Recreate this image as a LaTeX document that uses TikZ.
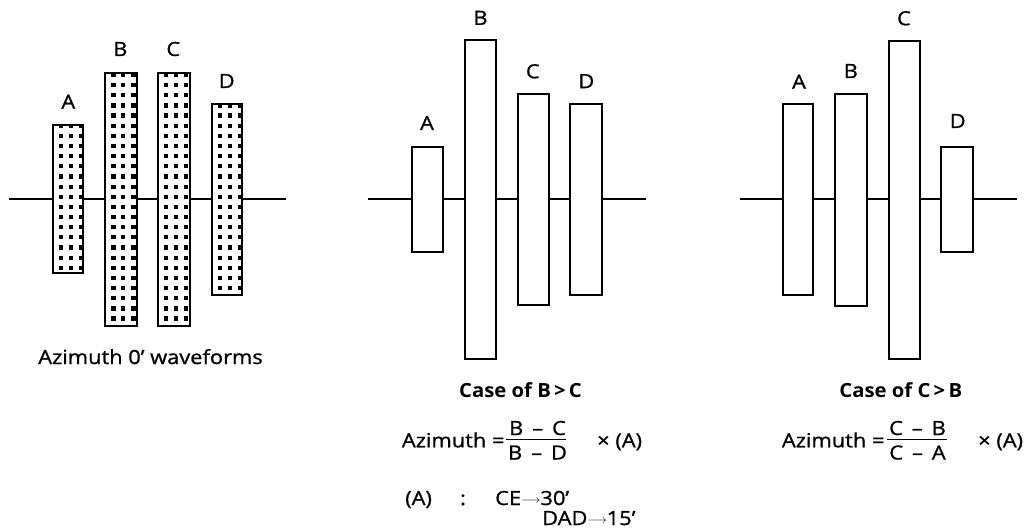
\documentclass[tikz,border=0pt]{standalone}
\usepackage{fontspec}
\setmainfont[FakeStretch=1.12]{Open Sans}
\newfontfamily\regf[FakeStretch=1.12,FakeBold=1.0]{Open Sans}
\newfontfamily\boldf[FakeStretch=1.04]{Open Sans}
\newcommand{\fs}{\fontsize{19.5}{22}\selectfont\regf}
\newcommand{\garrow}{\raisebox{2pt}{\fontsize{13}{14}\selectfont$\longrightarrow$}}
\tikzset{
  axisline/.style={line width=1.6pt},
  barbox/.style={draw, line width=2.1pt, fill=white, inner sep=0pt, outer sep=0pt},
  barline/.style={line width=2.1pt},
  lbl/.style={inner sep=0pt, font=\fs},
  txt/.style={inner sep=0pt, font=\fs, anchor=base},
  txtw/.style={inner sep=0pt, font=\fs, anchor=base west},
  boldtxt/.style={inner sep=0pt, font=\fontsize{19.5}{22}\selectfont\boldf\bfseries, anchor=base},
  fracline/.style={line width=1.4pt},
  dot/.style={fill=black},
}
% name, x1, y1, x2, y2 (centre lines of the border, image coordinates)
\newcommand{\mkbar}[5]{%
  \node[barbox, minimum width={(#4-#2)*1pt}, minimum height={(#5-#3)*1pt}] (#1) at ({(#2+#4)/2},{(#3+#5)/2}) {};}
\newcommand{\mkdots}[5]{%
  \begin{scope}
    \clip (#1.north west) rectangle (#1.south east);
    \foreach \k in {0,...,26}{
      \foreach \dx in {9.2,19,29.2}{
        \fill[dot] ({#2-0.9+\dx-2.1},{75+10.15*\k-2.1}) rectangle +(4.2,4.2);
      }}
  \end{scope}
  \draw[barline] (#1.north west) rectangle (#1.south east);}
\begin{document}
\begin{tikzpicture}[x=1pt,y=-1pt]
\useasboundingbox (0,0) rectangle (1031,529);

% ---------- left panel ----------
\coordinate (ax1a) at (9.3,199.3);
\coordinate (ax1b) at (285.7,199.3);
\draw[axisline] (ax1a) -- (ax1b);
\mkbar{bA1}{52.6}{125.2}{83.4}{273.1}
\mkbar{bB1}{105.2}{72.6}{137.4}{326.4}
\mkbar{bC1}{157.6}{72.6}{189.8}{326.4}
\mkbar{bD1}{211.6}{103.6}{242.4}{295.1}
\mkdots{bA1}{52.6}{125.2}{83.4}{273.1}
\mkdots{bB1}{105.2}{72.6}{137.4}{326.4}
\mkdots{bC1}{157.6}{72.6}{189.8}{326.4}
\mkdots{bD1}{211.6}{103.6}{242.4}{295.1}
\node[lbl] (lA1) at (68.3,101.7) {A};
\node[lbl] (lB1) at (120.3,49) {B};
\node[lbl] (lC1) at (173.3,49) {C};
\node[lbl] (lD1) at (226.7,81) {D};
\node[txt] (cap1) at (150.5,364) {Azimuth 0’ waveforms};

% ---------- middle panel ----------
\coordinate (ax2a) at (368.3,199.3);
\coordinate (ax2b) at (646,199.3);
\draw[axisline] (ax2a) -- (ax2b);
\mkbar{bA2}{411.6}{146.6}{443.1}{251.8}
\mkbar{bB2}{464.9}{40.2}{495.8}{359.1}
\mkbar{bC2}{517.9}{93.6}{549.4}{305.1}
\mkbar{bD2}{570.2}{104.2}{601.8}{294.8}
\node[lbl] (lA2) at (427,123) {A};
\node[lbl] (lB2) at (480.5,17.8) {B};
\node[lbl] (lC2) at (532.8,71.3) {C};
\node[lbl] (lD2) at (586.3,81.2) {D};
\node[boldtxt] (case2) at (520.5,397.3) {Case of B\,>\,C};
\node[txtw] (az2) at (401.7,447.3) {Azimuth =};
\node[txt] (num2) at (537.5,435) {B \,–\, C};
\coordinate (fr2a) at (506,439.5);
\coordinate (fr2b) at (566,439.5);
\draw[fracline] (fr2a) -- (fr2b);
\node[txt] (den2) at (537.5,459.5) {B \,–\, D};
\node[txtw] (mul2) at (597,447.3) {× (A)};
\node[txtw] (pA) at (405,505) {(A)};
\node[txt] (colon) at (463,505) {:};
\node[txtw] (ce) at (495,505) {CE\garrow30’};
\node[txtw] (dad) at (542,525) {DAD\garrow15’};

% ---------- right panel ----------
\coordinate (ax3a) at (740,199.3);
\coordinate (ax3b) at (1017.3,199.3);
\draw[axisline] (ax3a) -- (ax3b);
\mkbar{bA3}{782.6}{104.2}{813.4}{294.8}
\mkbar{bB3}{835.2}{93.6}{866.8}{305.8}
\mkbar{bC3}{888.6}{40.9}{920.1}{359.1}
\mkbar{bD3}{941.2}{146.9}{973.1}{251.8}
\node[lbl] (lA3) at (799,81.7) {A};
\node[lbl] (lB3) at (850.8,71) {B};
\node[lbl] (lC3) at (904,18.3) {C};
\node[lbl] (lD3) at (957.7,121) {D};
\node[boldtxt] (case3) at (900.8,397.3) {Case of C\,>\,B};
\node[txtw] (az3) at (781.7,447.3) {Azimuth =};
\node[txt] (num3) at (917.5,435) {C \,–\, B};
\coordinate (fr3a) at (886.7,439.5);
\coordinate (fr3b) at (946.7,439.5);
\draw[fracline] (fr3a) -- (fr3b);
\node[txt] (den3) at (917.5,459.5) {C \,–\, A};
\node[txtw] (mul3) at (978,447.3) {× (A)};
\end{tikzpicture}
\end{document}
